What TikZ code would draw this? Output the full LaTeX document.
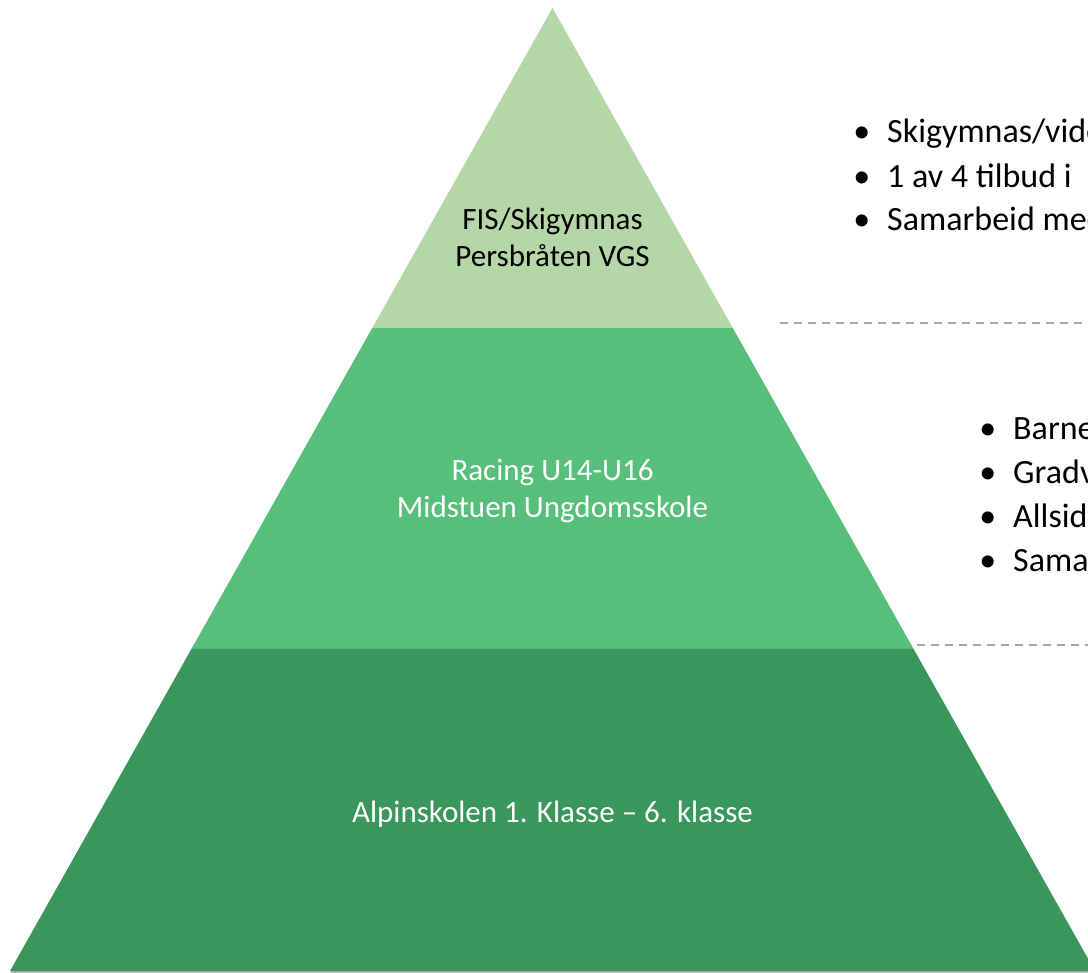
\documentclass[tikz,border=0pt]{standalone}
\usepackage{fontspec}
\setmainfont{Carlito}
\usetikzlibrary{calc}

\definecolor{tierTop}{RGB}{181,215,168}
\definecolor{tierMid}{RGB}{88,191,122}
\definecolor{tierLow}{RGB}{58,151,91}
\definecolor{sepGray}{RGB}{166,166,166}

\tikzset{
  tierlabel/.style={align=center, inner sep=0pt, font=\fontsize{23.25}{27.75}\selectfont},
  bulletline/.style={anchor=base west, inner sep=0pt, font=\fontsize{25.5}{30}\selectfont,
    execute at begin node={\makebox[25.5pt][l]{\textbullet}}},
  separator/.style={sepGray, line width=1.5pt, dash pattern=on 6pt off 4.5pt}
}

\begin{document}
\begin{tikzpicture}[x=0.75pt, y=-0.75pt]
	% Page frame, everything outside is cut away
	\useasboundingbox (0,0) rectangle (1088,973);
	\clip (0,0) rectangle (1088,973);

	% Corners of the pyramid and the tier breaks
	\coordinate (apex) at (552.5,8);
	\coordinate (baseL) at (10,971);
	\coordinate (baseR) at (1095,971);
	\coordinate (topL) at ($(apex)!0.3323!(baseL)$);
	\coordinate (topR) at ($(apex)!0.3323!(baseR)$);
	\coordinate (midL) at ($(apex)!0.6656!(baseL)$);
	\coordinate (midR) at ($(apex)!0.6656!(baseR)$);

	% Faint shadow under the pyramid
	\fill[black, opacity=0.3] ($(apex)+(0,2.5)$) -- ($(baseR)+(0,2.5)$) -- ($(baseL)+(0,2.5)$) -- cycle;

	% Draw the three tiers
	\fill[tierTop] (apex) -- (topR) -- (topL) -- cycle;
	\fill[tierMid] (topL) -- (topR) -- (midR) -- (midL) -- cycle;
	\fill[tierLow] (midL) -- (midR) -- (baseR) -- (baseL) -- cycle;

	% Names inside the tiers
	\node[tierlabel] (fis) at (552.5,237) {FIS/Skigymnas\\Persbråten VGS};
	\node[tierlabel, text=white] (racing) at (552.5,491) {Racing U14-U16\\Midstuen Ungdomsskole};
	\node[tierlabel, text=white] (alpin) at (552.5,814) {Alpinskolen 1. Klasse – 6. klasse};

	% Dashed lines between the text blocks
	\draw[separator] (780,323) -- (1100,323);
	\draw[separator] (917,645) -- (1100,645);

	% Points beside the top tier
	\node[bulletline] (gymA) at (853,143) {Skigymnas/videregående};
	\node[bulletline] (gymB) at (853,188) {1 av 4 tilbud i};
	\node[bulletline] (gymC) at (853,231) {Samarbeid med};

	% Points beside the middle tier
	\node[bulletline] (racA) at (979,439) {Barneskole};
	\node[bulletline] (racB) at (979,483) {Gradvis};
	\node[bulletline] (racC) at (979,527) {Allsidig};
	\node[bulletline] (racD) at (979,571) {Samarbeid};

\end{tikzpicture}
\end{document}
